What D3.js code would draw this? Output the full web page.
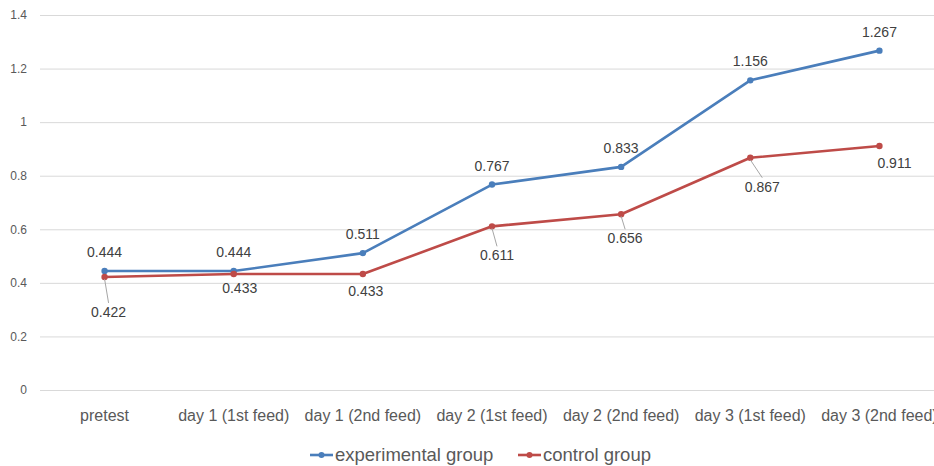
<!DOCTYPE html>
<html>
<head>
<meta charset="utf-8">
<script src="https://cdn.jsdelivr.net/npm/d3@7"></script>
<style>
  html, body { margin: 0; padding: 0; background: #fff; overflow: hidden; }
  svg { display: block; font-family: "Liberation Sans", Arial, sans-serif; }
</style>
</head>
<body>
<svg id="chart" width="934" height="466"></svg>
<script>
// ---- data ----
const categories = ["pretest", "day 1 (1st feed)", "day 1 (2nd feed)", "day 2 (1st feed)", "day 2 (2nd feed)", "day 3 (1st feed)", "day 3 (2nd feed)"];
const experimental = [0.444, 0.444, 0.511, 0.767, 0.833, 1.156, 1.267];
const control = [0.422, 0.433, 0.433, 0.611, 0.656, 0.867, 0.911];
const yTicks = [0, 0.2, 0.4, 0.6, 0.8, 1, 1.2, 1.4];
const seriesNames = ["experimental group", "control group"];

// ---- layout ----
const W = 934, H = 466;
const plotLeft = 40, plotRight = 944, plotTop = 15, plotBottom = 390;
const colors = ["#4a7ebb", "#be4b48"];

const svg = d3.select("#chart");

const x = d3.scaleBand().domain(categories).range([plotLeft, plotRight]).padding(0);
const cx = c => x(c) + x.bandwidth() / 2;
const y = d3.scaleLinear().domain([0, 1.4]).range([plotBottom, plotTop]);

// gridlines
const grid = svg.append("g").attr("transform", `translate(${plotLeft},0)`)
  .call(d3.axisLeft(y).tickValues(yTicks).tickSize(-(W - plotLeft)).tickFormat(""));
grid.select(".domain").remove();
grid.selectAll("line").attr("stroke", "#d9d9d9").attr("stroke-width", 1);

// y labels
const yAx = svg.append("g").attr("transform", `translate(${plotLeft},0)`)
  .call(d3.axisLeft(y).tickValues(yTicks).tickSize(0).tickPadding(13).tickFormat(d => String(d)));
yAx.select(".domain").remove();
yAx.selectAll("text").attr("fill", "#595959").style("font-size", "12px")
  .style("font-family", "'Liberation Sans', Arial, sans-serif");

// x labels
const xAx = svg.append("g").attr("transform", `translate(0,${plotBottom})`)
  .call(d3.axisBottom(x).tickSize(0).tickPadding(20));
xAx.select(".domain").remove();
xAx.selectAll("text").attr("fill", "#595959").style("font-size", "16px")
  .style("font-family", "'Liberation Sans', Arial, sans-serif");

// lines
const seriesList = [experimental, control];
const line = d3.line().x((d, i) => cx(categories[i])).y(d => y(d));
seriesList.forEach((vals, s) => {
  svg.append("path").datum(vals).attr("d", line)
    .attr("fill", "none").attr("stroke", colors[s]).attr("stroke-width", 2.6)
    .attr("stroke-linejoin", "round");
  svg.append("g").selectAll("circle").data(vals).join("circle")
    .attr("cx", (d, i) => cx(categories[i])).attr("cy", d => y(d)).attr("r", 3.2)
    .attr("fill", colors[s]);
});

// data labels (offsets relative to the point: dx, dy-baseline, leader line)
const expOffsets = [[0, -14], [0, -14], [0, -14], [0, -14], [0, -14], [0, -14], [0, -14]];
const ctlOffsets = [[4, 40, true], [6, 19, false], [3, 22, false], [5, 34, true], [4, 29, true], [12, 34, true], [15, 22, false]];
const labelG = svg.append("g").style("font-size", "14px").attr("fill", "#404040").attr("text-anchor", "middle");
experimental.forEach((v, i) => {
  const px = cx(categories[i]), py = y(v);
  labelG.append("text").attr("x", px + expOffsets[i][0]).attr("y", py + expOffsets[i][1]).text(v.toFixed(3));
});
control.forEach((v, i) => {
  const px = cx(categories[i]), py = y(v);
  const [dx, dy, lead] = ctlOffsets[i];
  if (lead) {
    svg.append("line").attr("x1", px).attr("y1", py + 2).attr("x2", px + dx).attr("y2", py + dy - 14)
      .attr("stroke", "#a6a6a6").attr("stroke-width", 1);
  }
  labelG.append("text").attr("x", px + dx).attr("y", py + dy).text(v.toFixed(3));
});

// legend
const legend = svg.append("g").style("font-size", "18.5px").attr("fill", "#595959");
const legendX = [310, 518];
seriesNames.forEach((n, s) => {
  const g = legend.append("g").attr("transform", `translate(${legendX[s]},455)`);
  g.append("line").attr("x1", 0).attr("x2", 23).attr("y1", 0).attr("y2", 0)
    .attr("stroke", colors[s]).attr("stroke-width", 2.6);
  g.append("circle").attr("cx", 11.5).attr("cy", 0).attr("r", 3).attr("fill", colors[s]);
  g.append("text").attr("x", 25).attr("y", 0).attr("dy", "0.35em").text(n);
});
</script>
</body>
</html>
